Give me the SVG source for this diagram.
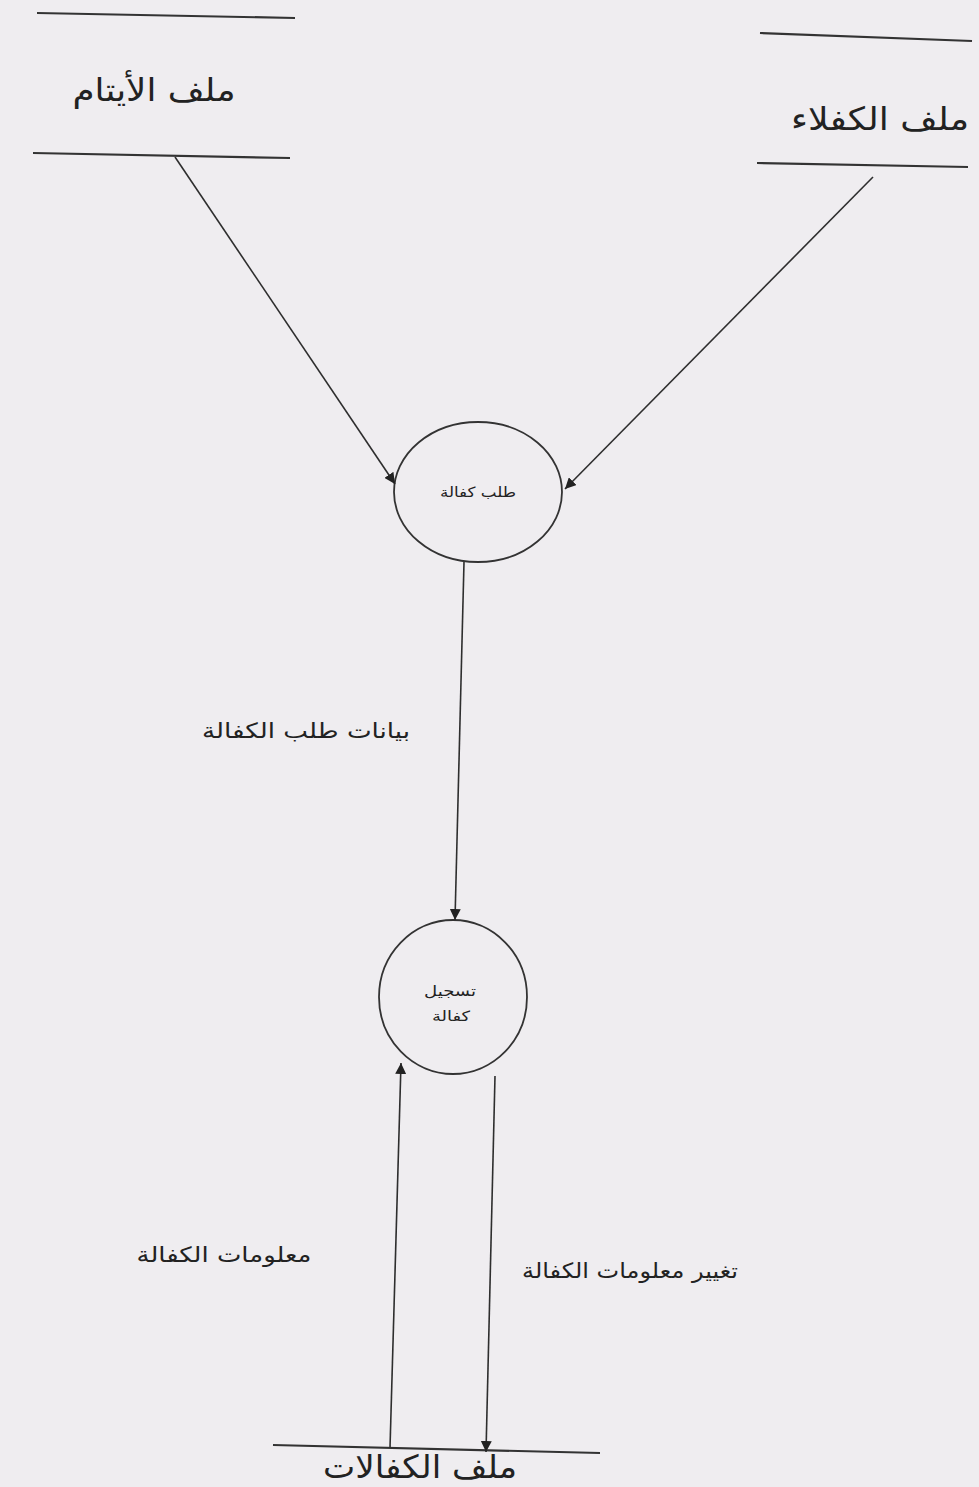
<svg xmlns="http://www.w3.org/2000/svg" width="979" height="1487" viewBox="0 0 979 1487">
<style>
.bg{fill:#efedf0}
.ln{stroke:#2e2e2e;stroke-width:1.6;fill:none}
.st{stroke:#333;stroke-width:2.2;fill:none}
.pr{stroke:#333;stroke-width:1.8;fill:none}
.t{font-family:"DejaVu Sans",sans-serif;fill:#222;text-anchor:middle;direction:rtl}
.big{font-size:32px}
.lbl{font-size:21px}
.sm{font-size:14px}
</style>
<defs>
<marker id="ah" viewBox="0 0 10 10" refX="10" refY="5" markerWidth="11" markerHeight="11" markerUnits="userSpaceOnUse" orient="auto">
<path d="M0,0 L10,5 L0,10 z" fill="#222"/>
</marker>
</defs>
<rect class="bg" x="0" y="0" width="979" height="1487"/>

<g id="store-orphans">
<line class="st" x1="37" y1="13" x2="295" y2="18"/>
<line class="st" x1="33" y1="153" x2="290" y2="158"/>
<text class="t big" x="154" y="101" textLength="163" lengthAdjust="spacingAndGlyphs">ملف الأيتام</text>
</g>

<g id="store-sponsors">
<line class="st" x1="760" y1="33" x2="972" y2="41"/>
<line class="st" x1="757" y1="163" x2="968" y2="167"/>
<text class="t big" x="880" y="130" textLength="178" lengthAdjust="spacingAndGlyphs">ملف الكفلاء</text>
</g>

<g id="proc-request">
<ellipse class="pr" cx="478" cy="492" rx="84" ry="70"/>
<text class="t sm" x="478" y="497" textLength="76" lengthAdjust="spacingAndGlyphs">طلب كفالة</text>
</g>

<g id="proc-register">
<ellipse class="pr" cx="453" cy="997" rx="74" ry="77"/>
<text class="t sm" x="450" y="996" textLength="52" lengthAdjust="spacingAndGlyphs">تسجيل</text>
<text class="t sm" x="451" y="1021" textLength="38" lengthAdjust="spacingAndGlyphs">كفالة</text>
</g>

<g id="store-sponsorships">
<line class="st" x1="273" y1="1445" x2="600" y2="1453"/>
<text class="t big" x="420" y="1478" textLength="194" lengthAdjust="spacingAndGlyphs">ملف الكفالات</text>
</g>

<g id="connectors">
<line class="ln" x1="175" y1="157" x2="395" y2="484" marker-end="url(#ah)"/>
<line class="ln" x1="873" y1="177" x2="565" y2="489" marker-end="url(#ah)"/>
<line class="ln" x1="464" y1="562" x2="455" y2="920" marker-end="url(#ah)"/>
<line class="ln" x1="390" y1="1448" x2="401" y2="1063" marker-end="url(#ah)"/>
<line class="ln" x1="495" y1="1076" x2="486" y2="1452" marker-end="url(#ah)"/>
<text class="t lbl" x="306" y="738" textLength="208" lengthAdjust="spacingAndGlyphs">بيانات طلب الكفالة</text>
<text class="t lbl" x="224" y="1262" textLength="175" lengthAdjust="spacingAndGlyphs">معلومات الكفالة</text>
<text class="t lbl" x="630" y="1278" textLength="216" lengthAdjust="spacingAndGlyphs">تغيير معلومات الكفالة</text>
</g>
</svg>
